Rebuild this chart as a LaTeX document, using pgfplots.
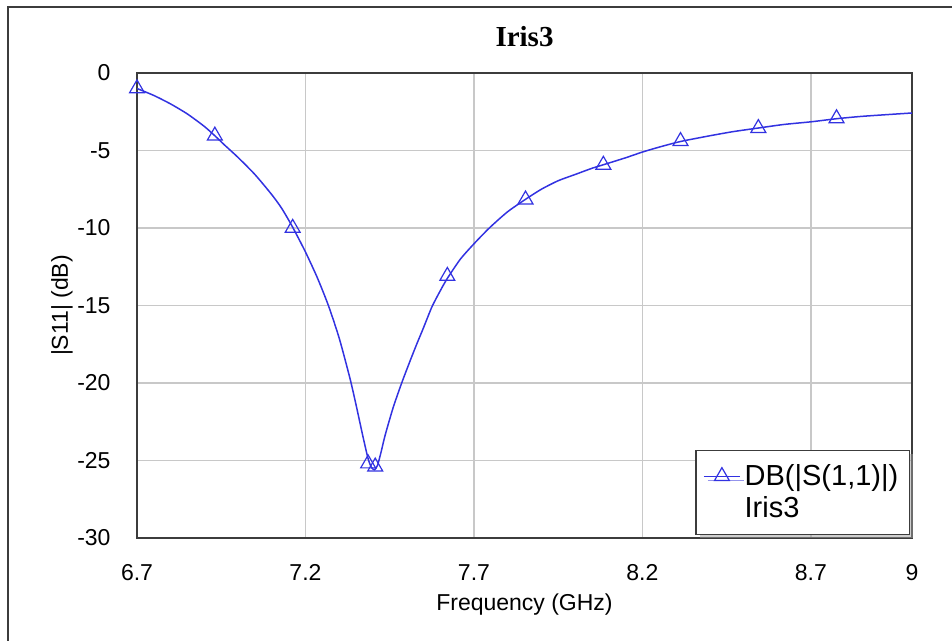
\documentclass[border=0pt]{standalone}
\usepackage{pgfplots}
\pgfplotsset{compat=1.18}
\usepackage{fontspec}
\setmainfont{Liberation Sans}
\newfontfamily\timesfont{Liberation Serif}
\usetikzlibrary{shadows}
\definecolor{curve}{RGB}{50,50,225}
\definecolor{gridc}{RGB}{200,200,200}
\definecolor{framec}{RGB}{60,60,60}
\begin{document}
\begin{tikzpicture}[x=1pt,y=1pt]
\useasboundingbox (0,0) rectangle (476,320.5);
\draw[framec, line width=1pt] (4,-5) -- (4,317) -- (480,317);
\begin{axis}[
 at={(68.5pt,51.5pt)}, anchor=south west,
 scale only axis, width=387.5pt, height=232.5pt,
 xmin=6.7, xmax=9, ymin=-30, ymax=0,
 xtick={6.7,7.2,7.7,8.2,8.7,9}, xticklabels={6.7,7.2,7.7,8.2,8.7,9},
 ytick={-30,-25,-20,-15,-10,-5,0}, yticklabels={-30,-25,-20,-15,-10,-5,0},
 /pgf/number format/assume math mode=true,
 major tick length=0pt,
 grid=major, major grid style={gridc, line width=0.6pt},
 axis line style={framec, line width=0.9pt},
 tick label style={font=\fontsize{11.5}{13}\selectfont, black},
 xticklabel style={yshift=-9.7pt},
 yticklabel style={xshift=-9.7pt},
 xlabel={Frequency (GHz)}, ylabel={|S11| (dB)},
 label style={font=\fontsize{11.5}{13}\selectfont},
 xlabel style={at={(rel axis cs:0.5,-0.1441)}, anchor=center},
 ylabel style={at={(rel axis cs:-0.0968,0.5)}, anchor=center},
 title={Iris3},
 title style={font=\timesfont\bfseries\fontsize{14.5}{16}\selectfont, at={(rel axis cs:0.5,1.0516)}, anchor=center},
 legend style={at={(rel axis cs:1,0)}, anchor=south east, xshift=-1pt, yshift=1.5pt,
   font=\fontsize{14.5}{17.5}\selectfont, draw=framec, line width=0.7pt,
   drop shadow={shadow xshift=2pt, shadow yshift=-2pt, fill=gray!75},
   inner xsep=3.5pt, inner ysep=5pt, cells={anchor=west}, row sep=0pt},
 legend image code/.code={\draw[mark repeat=2,mark phase=2,#1] plot coordinates {(0pt,0pt) (9pt,0pt) (18pt,0pt)};},
]
\addplot[curve, line width=0.75pt, smooth, tension=0.4, forget plot] table {
6.700 -1.00
6.750 -1.45
6.800 -2.00
6.850 -2.65
6.900 -3.45
6.931 -4.05
6.960 -4.65
7.000 -5.45
7.050 -6.55
7.100 -7.85
7.130 -8.75
7.162 -9.95
7.200 -11.55
7.235 -13.2
7.268 -15.0
7.300 -17.1
7.332 -19.7
7.350 -21.4
7.370 -23.4
7.386 -24.9
7.396 -25.45
7.405 -25.6
7.414 -25.3
7.425 -24.4
7.436 -23.4
7.460 -21.6
7.4855 -20.0
7.510 -18.6
7.530 -17.5
7.550 -16.45
7.575 -15.1
7.600 -14.05
7.621 -13.25
7.660 -12.0
7.703 -10.95
7.748 -9.95
7.800 -8.95
7.853 -8.15
7.900 -7.5
7.950 -6.95
8.000 -6.55
8.050 -6.15
8.084 -5.92
8.150 -5.47
8.200 -5.1
8.250 -4.78
8.313 -4.42
8.400 -4.05
8.470 -3.78
8.544 -3.55
8.620 -3.32
8.700 -3.15
8.776 -2.95
8.850 -2.8
8.930 -2.68
9.000 -2.58
};
\addplot[curve, only marks, mark=triangle, mark size=4.3pt, mark options={line width=0.6pt}, forget plot] table {
6.700 -1.0
6.931 -4.05
7.162 -10.0
7.386 -25.2
7.407 -25.4
7.621 -13.1
7.853 -8.17
8.084 -5.93
8.313 -4.4
8.544 -3.56
8.776 -2.93
};
\addlegendimage{curve, line width=0.75pt, mark=triangle, mark size=4.3pt, mark options={line width=0.6pt}}
\addlegendentry{DB(|S(1,1)|)}
\addlegendimage{empty legend}
\addlegendentry{Iris3}
\end{axis}
\end{tikzpicture}
\end{document}
